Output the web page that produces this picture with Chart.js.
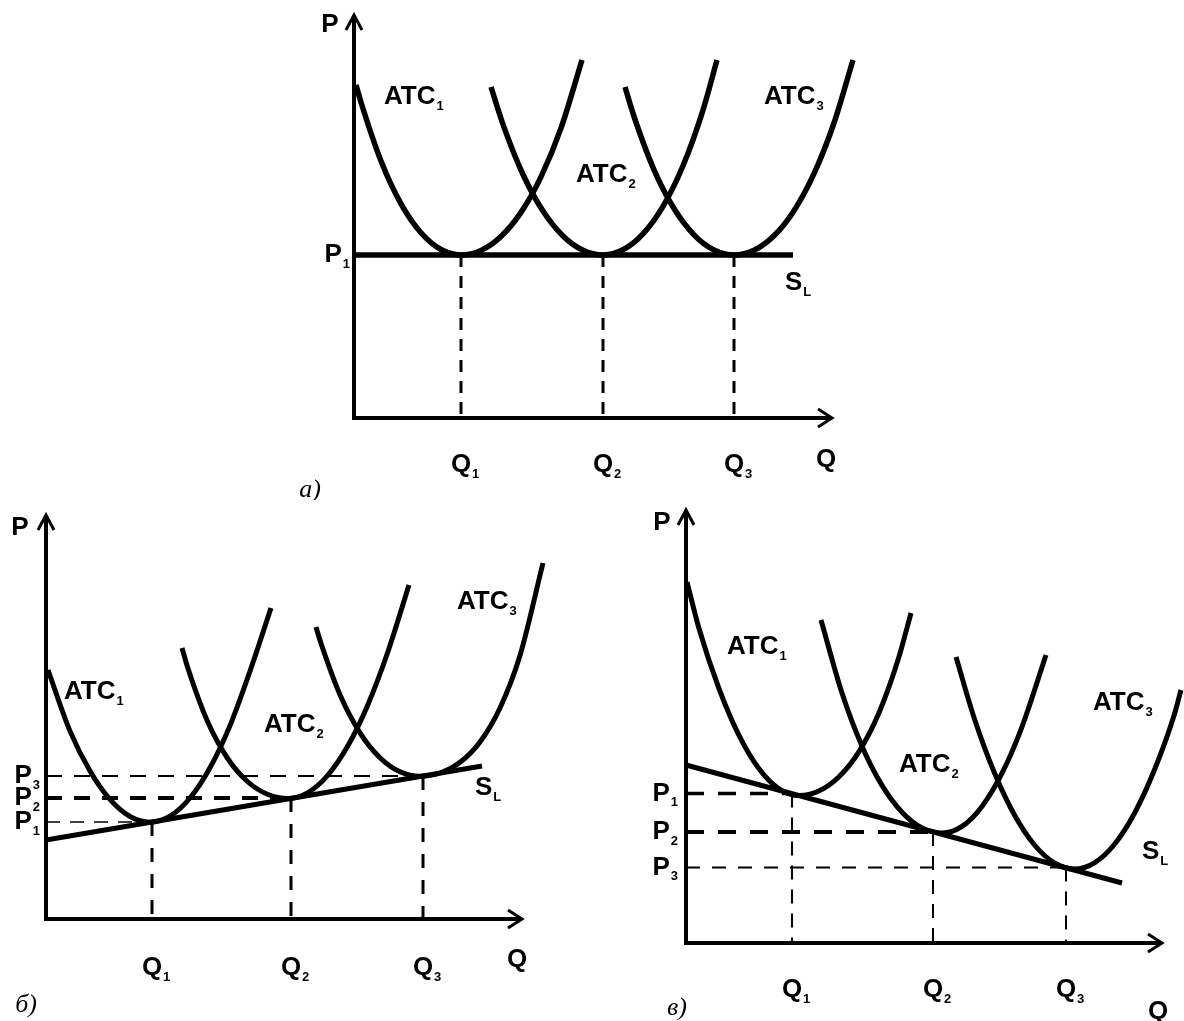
<!DOCTYPE html>
<html>
<head>
<meta charset="utf-8">
<script src="https://cdn.jsdelivr.net/npm/chart.js@4.4.1/dist/chart.umd.min.js"></script>
<style>
  html, body { margin: 0; padding: 0; background: #fff; }
  body { width: 1184px; height: 1021px; position: relative; overflow: hidden; }
  canvas { position: absolute; }
</style>
</head>
<body>
<canvas id="chartA"></canvas>
<canvas id="chartB"></canvas>
<canvas id="chartC"></canvas>
<script>

// --- panel a) : constant cost industry
const quantitiesA = [10.7, 24.9, 38.0];
const pricesA = [16.3, 16.3, 16.3];
const supplyA = [[0, 16.3], [43.9, 16.3]];
const atc1A = [[0.2,33.3],[0.7,31.57],[2.7,25.7],[4.7,21.42],[6.7,18.53],[8.7,16.85],[10.7,16.3],[12.7,16.76],[14.7,18.15],[16.7,20.56],[18.7,24.11],[20.7,28.98],[22.8,35.8]];
const atc2A = [[13.7,33.1],[14.9,29.37],[16.9,24.35],[18.9,20.69],[20.9,18.2],[22.9,16.77],[24.9,16.3],[26.9,16.82],[28.9,18.41],[30.9,21.16],[32.9,25.22],[34.9,30.79],[36.3,35.8]];
const atc3A = [[27.1,33.1],[28.0,30.15],[30.0,24.82],[32.0,20.95],[34.0,18.32],[36.0,16.8],[38.0,16.3],[40.0,16.77],[42.0,18.22],[44.0,20.73],[46.0,24.43],[48.0,29.5],[49.9,35.8]];

// --- panel б) : increasing cost industry
const quantitiesB = [10.6, 24.5, 37.7];
const pricesB = [9.7, 12.1, 14.3];
const supplyB = [[0, 7.9], [43.6, 15.3]];
const atc1B = [[0.2,24.9],[2.4,18.79],[4.4,14.81],[6.4,11.96],[8.4,10.25],[10.4,9.68],[12.4,10.28],[14.4,12.1],[16.4,15.12],[18.4,19.34],[20.4,24.78],[22.5,31.1]];
const atc2B = [[13.6,27.1],[14.2,25.05],[16.2,19.64],[18.2,16.0],[20.2,13.7],[22.2,12.45],[24.2,12.05],[26.2,12.64],[28.2,14.4],[30.2,17.34],[32.2,21.46],[34.2,26.75],[36.3,33.4]];
const atc3B = [[27.0,29.2],[27.4,27.88],[29.4,22.43],[31.4,18.62],[33.4,16.13],[35.4,14.72],[37.4,14.27],[39.4,14.6],[41.4,15.67],[43.4,17.71],[45.4,21.1],[47.4,26.35],[49.7,35.6]];

// --- panel в) : decreasing cost industry
const quantitiesC = [10.6, 24.7, 38.0];
const pricesC = [14.95, 11.1, 7.55];
const supplyC = [[0, 17.8], [43.6, 6.0]];
const atc1C = [[0.1,36.1],[1.3,31.45],[3.3,25.44],[5.3,20.76],[7.3,17.42],[9.3,15.42],[11.3,14.75],[13.3,15.2],[15.3,16.62],[17.3,19.14],[19.3,23.03],[21.3,28.63],[22.5,33.0]];
const atc2C = [[13.5,32.3],[15.6,24.99],[17.6,19.68],[19.6,15.76],[21.6,13.08],[23.6,11.51],[25.6,11.0],[27.6,11.66],[29.6,13.66],[31.6,16.98],[33.6,21.62],[36.0,28.8]];
const atc3C = [[27.0,28.6],[28.85,22.4],[30.85,17.0],[32.85,12.8],[34.85,9.8],[36.85,8.0],[38.85,7.4],[40.85,8.02],[42.85,9.88],[44.85,12.98],[46.85,17.32],[48.85,22.9],[49.5,25.3]];

// label texts
const curveSubs = ['1', '2', '3'];
const captions = ['а)', 'б)', 'в)'];

const BOLD = '"Liberation Sans", Arial, Helvetica, sans-serif';

function pts(arr) {
    return arr.map(function (p) { return { x: p[0], y: p[1] }; });
}

function drawLabel(ctx, main, sub, x, y, align) {
    ctx.font = 'bold 26px ' + BOLD;
    const mw = ctx.measureText(main).width;
    ctx.font = 'bold 13px ' + BOLD;
    const sw = sub ? ctx.measureText(sub).width + 1 : 0;
    let start = x;
    if (align === 'right') start = x - mw - sw;
    if (align === 'centerMain') start = x - mw / 2;
    ctx.textBaseline = 'middle';
    ctx.textAlign = 'left';
    ctx.font = 'bold 26px ' + BOLD;
    ctx.fillText(main, start, y);
    if (sub) {
        ctx.font = 'bold 13px ' + BOLD;
        ctx.fillText(sub, start + mw + 1, y + 9);
    }
}

function makePanel(cfg) {
    const b = cfg.box;
    const canvas = document.getElementById(cfg.id);
    canvas.width = b.width;
    canvas.height = b.height;
    canvas.style.left = b.left + 'px';
    canvas.style.top = b.top + 'px';

    const datasets = [];
    // vertical dashed guides
    cfg.q.forEach(function (q, i) {
        datasets.push({
            data: pts([[q, cfg.p[i]], [q, 0]]),
            borderColor: '#000', borderWidth: cfg.vStyle.w, borderDash: cfg.vStyle.dash,
            showLine: true, pointRadius: 0, tension: 0
        });
    });
    // horizontal dashed guides
    if (cfg.hStyles) {
        cfg.p.forEach(function (p, i) {
            datasets.push({
                data: pts([[0, p], [cfg.q[i], p]]),
                borderColor: '#000', borderWidth: cfg.hStyles[i].w, borderDash: cfg.hStyles[i].dash,
                showLine: true, pointRadius: 0, tension: 0
            });
        });
    }
    cfg.curves.forEach(function (c) {
        datasets.push({
            data: pts(c), borderColor: '#000', borderWidth: cfg.curveW,
            showLine: true, pointRadius: 0, cubicInterpolationMode: 'monotone'
        });
    });
    datasets.push({
        data: pts(cfg.supply), borderColor: '#000', borderWidth: cfg.curveW,
        showLine: true, pointRadius: 0, tension: 0
    });

    const axesPlugin = {
        id: 'econAxes',
        beforeDatasetsDraw(chart) {
            const ctx = chart.ctx, xs = chart.scales.x, ys = chart.scales.y;
            const x0 = xs.getPixelForValue(0), y0 = ys.getPixelForValue(0);
            const yTop = ys.getPixelForValue(cfg.axisTop), xEnd = xs.getPixelForValue(cfg.axisEnd);
            ctx.save();
            ctx.strokeStyle = '#000';
            ctx.lineWidth = 4;
            ctx.beginPath();
            ctx.moveTo(x0, y0 + 2);
            ctx.lineTo(x0, yTop + 1);
            ctx.moveTo(x0 - 2, y0);
            ctx.lineTo(xEnd - 1, y0);
            ctx.stroke();
            ctx.lineWidth = 3;
            ctx.beginPath();
            ctx.moveTo(x0 - 8, yTop + 15);
            ctx.lineTo(x0, yTop);
            ctx.lineTo(x0 + 8, yTop + 15);
            ctx.moveTo(xEnd - 14, y0 - 9);
            ctx.lineTo(xEnd, y0);
            ctx.lineTo(xEnd - 14, y0 + 9);
            ctx.stroke();
            ctx.restore();
        },
        afterDatasetsDraw(chart) {
            const ctx = chart.ctx, xs = chart.scales.x, ys = chart.scales.y;
            const x0 = xs.getPixelForValue(0), y0 = ys.getPixelForValue(0);
            ctx.save();
            ctx.fillStyle = '#000';
            // price labels on the P axis
            const seen = {};
            cfg.p.forEach(function (p, i) {
                if (seen[p]) return;
                seen[p] = true;
                drawLabel(ctx, 'P', String(i + 1), x0 - cfg.pGap, ys.getPixelForValue(p), 'right');
            });
            // quantity labels under the Q axis
            cfg.q.forEach(function (q, i) {
                drawLabel(ctx, 'Q', String(i + 1), xs.getPixelForValue(q), y0 + cfg.qGap, 'centerMain');
            });
            // axis names
            drawLabel(ctx, 'P', '', xs.getPixelForValue(cfg.pName[0]), ys.getPixelForValue(cfg.pName[1]), 'centerMain');
            drawLabel(ctx, 'Q', '', xs.getPixelForValue(cfg.qName[0]), ys.getPixelForValue(cfg.qName[1]), 'centerMain');
            // curve names
            cfg.atcPos.forEach(function (pos, i) {
                drawLabel(ctx, 'ATC', curveSubs[i], xs.getPixelForValue(pos[0]), ys.getPixelForValue(pos[1]), 'left');
            });
            drawLabel(ctx, 'S', 'L', xs.getPixelForValue(cfg.slPos[0]), ys.getPixelForValue(cfg.slPos[1]), 'left');
            // caption
            ctx.font = 'italic 26px "Liberation Serif", "DejaVu Serif", serif';
            ctx.textAlign = 'center';
            ctx.textBaseline = 'middle';
            ctx.fillText(cfg.caption, xs.getPixelForValue(cfg.capPos[0]), ys.getPixelForValue(cfg.capPos[1]));
            ctx.restore();
        }
    };

    return new Chart(canvas, {
        type: 'scatter',
        data: { datasets: datasets },
        options: {
            responsive: false,
            animation: false,
            devicePixelRatio: 1,
            layout: { padding: 0 },
            events: [],
            scales: {
                x: { type: 'linear', display: false, min: (b.left - b.ox) / 10, max: (b.left + b.width - b.ox) / 10 },
                y: { type: 'linear', display: false, min: (b.oy - b.top - b.height) / 10, max: (b.oy - b.top) / 10 }
            },
            plugins: { legend: { display: false }, tooltip: { enabled: false } }
        },
        plugins: [axesPlugin]
    });
}

makePanel({
    id: 'chartA',
    box: { left: 290, top: 0, width: 590, height: 500, ox: 354, oy: 418 },
    q: quantitiesA, p: pricesA, curves: [atc1A, atc2A, atc3A], supply: supplyA,
    axisTop: 40.3, axisEnd: 47.8, curveW: 5.5,
    vStyle: { w: 3, dash: [12, 9] },
    hStyles: null,
    pGap: 4, qGap: 47,
    pName: [-2.4, 39.3], qName: [47.2, -4.2],
    atcPos: [[3.0, 32.1], [22.2, 24.3], [41.0, 32.1]], slPos: [43.1, 13.5],
    caption: captions[0], capPos: [-4.4, -7.2]
});

makePanel({
    id: 'chartB',
    box: { left: 0, top: 500, width: 600, height: 521, ox: 46, oy: 919 },
    q: quantitiesB, p: pricesB, curves: [atc1B, atc2B, atc3B], supply: supplyB,
    axisTop: 40.4, axisEnd: 47.6, curveW: 5,
    vStyle: { w: 3, dash: [14, 12] },
    hStyles: [{ w: 1.5, dash: [14, 10] }, { w: 4, dash: [16, 12] }, { w: 2, dash: [16, 12] }],
    pGap: 6, qGap: 49,
    pName: [-2.6, 39.1], qName: [47.1, -4.1],
    atcPos: [[1.8, 22.7], [21.8, 19.4], [41.1, 31.7]], slPos: [42.9, 13.1],
    caption: captions[1], capPos: [-2.0, -8.6]
});

makePanel({
    id: 'chartC',
    box: { left: 620, top: 500, width: 564, height: 521, ox: 686, oy: 943 },
    q: quantitiesC, p: pricesC, curves: [atc1C, atc2C, atc3C], supply: supplyC,
    axisTop: 43.3, axisEnd: 47.6, curveW: 5,
    vStyle: { w: 2, dash: [14, 10] },
    hStyles: [{ w: 3.5, dash: [18, 14] }, { w: 4, dash: [18, 14] }, { w: 2, dash: [14, 12] }],
    pGap: 8, qGap: 47,
    pName: [-2.4, 42.0], qName: [47.2, -6.9],
    atcPos: [[4.1, 29.6], [21.3, 17.8], [40.7, 24.0]], slPos: [45.6, 9.1],
    caption: captions[2], capPos: [-0.9, -6.5]
});
</script>
</body>
</html>
